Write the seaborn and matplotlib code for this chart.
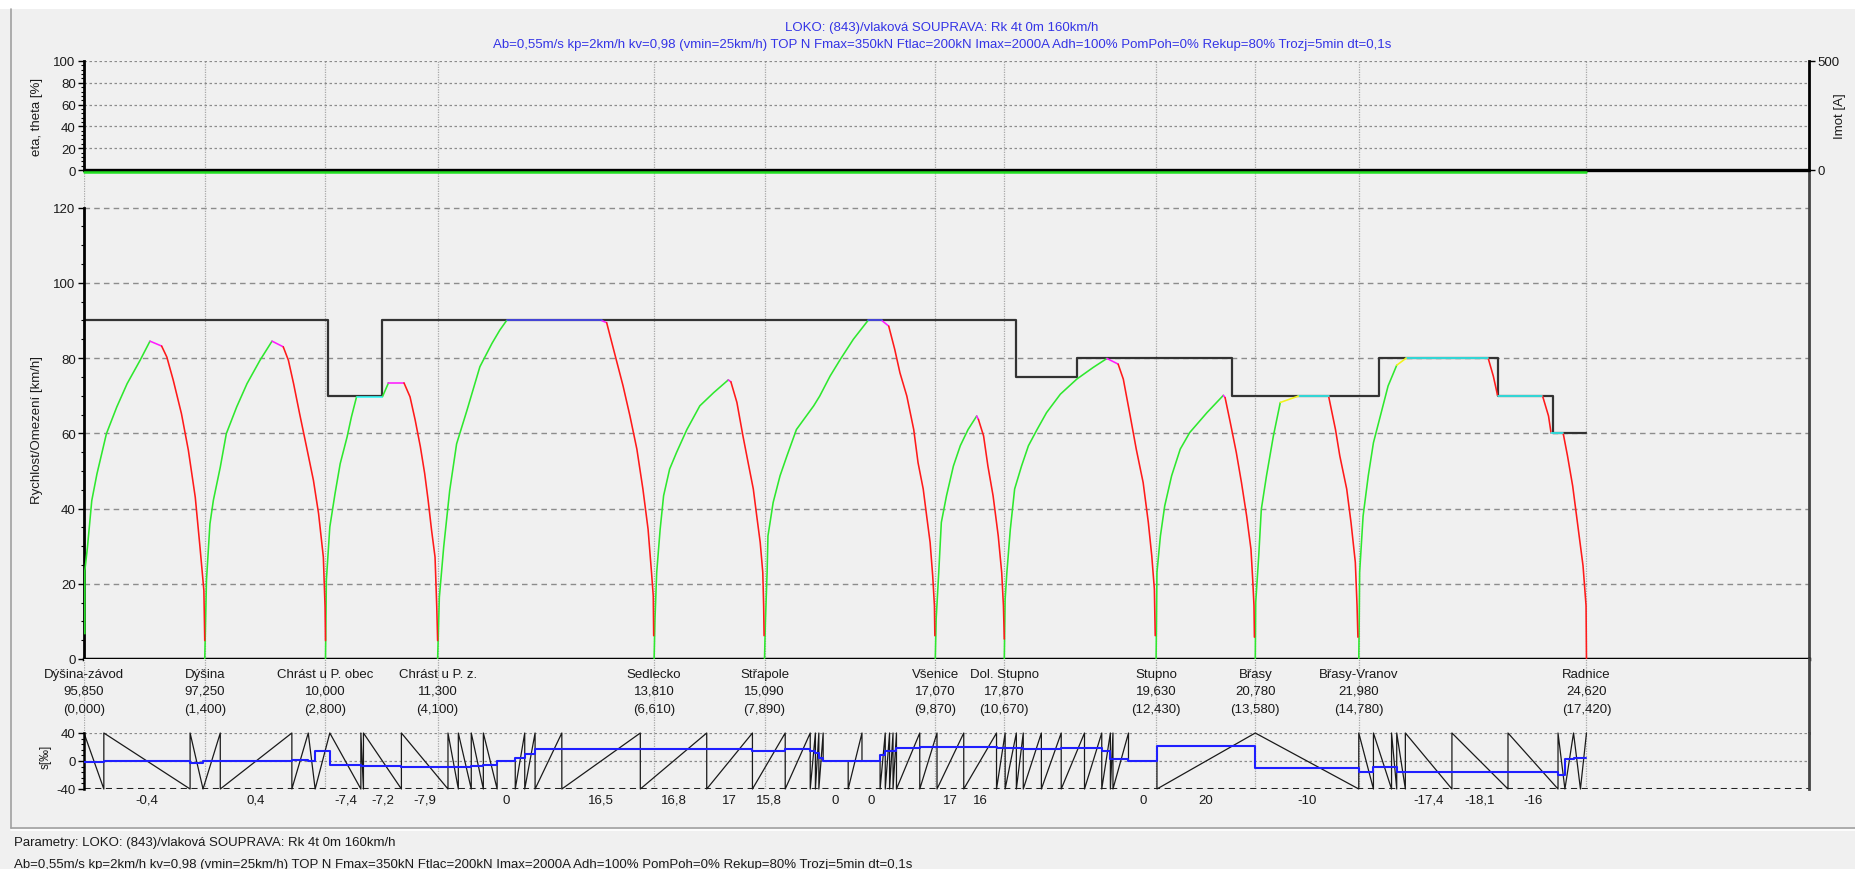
import numpy as np
import pandas as pd
import matplotlib
matplotlib.use("Agg")
import matplotlib.pyplot as plt
import matplotlib.transforms as mtransforms
from matplotlib.lines import Line2D
from matplotlib.patches import Rectangle
from matplotlib.ticker import MultipleLocator, FixedLocator
import seaborn as sns

# ---------------------------------------------------------------- texts
title_line1 = "LOKO: (843)/vlaková SOUPRAVA: Rk 4t 0m 160km/h"
title_line2 = ("Ab=0,55m/s kp=2km/h kv=0,98 (vmin=25km/h) TOP N Fmax=350kN Ftlac=200kN "
               "Imax=2000A Adh=100% PomPoh=0% Rekup=80% Trozj=5min dt=0,1s")
footer_line1 = "Parametry: LOKO: (843)/vlaková SOUPRAVA: Rk 4t 0m 160km/h"
footer_line2 = title_line2

# ---------------------------------------------------------------- stations
station_names = ["Dýšina-závod", "Dýšina", "Chrást u P. obec", "Chrást u P. z.", "Sedlecko",
                 "Střapole", "Všenice", "Dol. Stupno", "Stupno", "Břasy", "Břasy-Vranov", "Radnice"]
station_km = [0.0, 1.4, 2.8, 4.1, 6.61, 7.89, 9.87, 10.67, 12.43, 13.58, 14.78, 17.42]
station_chainage = [95.850, 97.250, 10.000, 11.300, 13.810, 15.090, 17.070, 17.870,
                    19.630, 20.780, 21.980, 24.620]

# ---------------------------------------------------------------- speed limit (step starts)
limit_km = [0.0, 2.83, 3.45, 10.80, 11.51, 13.31, 15.02, 16.40, 17.03, 17.42]
limit_kmh = [90, 70, 90, 75, 80, 70, 80, 70, 60]

# ---------------------------------------------------------------- speed runs
# mode letter per interval: A traction, C coasting, B braking, K hold at limit,
# U cruising, Y transition to hold
run01_km = [0.01, 0.01, 0.04, 0.09, 0.15, 0.26, 0.38, 0.50, 0.65, 0.765, 0.90, 0.96, 1.035, 1.13, 1.21, 1.29, 1.345, 1.39, 1.40]
run01_v = [6.7, 23.5, 29.7, 42.1, 49.2, 59.9, 67.0, 73.2, 79.4, 84.5, 83.2, 80.3, 74.1, 65.2, 55.5, 43.0, 29.7, 18.2, 4.9]
run01_mode = "AAAAAAAAACBBBBBBBB"

run02_km = [1.40, 1.42, 1.46, 1.50, 1.58, 1.65, 1.77, 1.89, 2.04, 2.18, 2.31, 2.37, 2.43, 2.50, 2.58, 2.66, 2.72, 2.775, 2.795, 2.80]
run02_v = [0.0, 20.9, 35.9, 42.2, 51.0, 59.9, 67.0, 73.2, 79.4, 84.5, 83.0, 79.4, 73.2, 65.2, 56.4, 47.5, 38.6, 27.1, 13.8, 4.9]
run02_mode = "AAAAAAAAACBBBBBBBBB"

run03_km = [2.80, 2.81, 2.85, 2.91, 2.97, 3.05, 3.10, 3.16, 3.46, 3.53, 3.71, 3.78, 3.84, 3.90, 3.95, 3.99, 4.03, 4.07, 4.09, 4.10]
run03_v = [0.0, 20.9, 35.1, 43.9, 51.9, 59.0, 64.3, 69.7, 69.7, 73.4, 73.4, 69.7, 63.5, 56.4, 49.3, 42.2, 34.2, 27.1, 13.8, 4.9]
run03_mode = "AAAAAAAKACBBBBBBBBB"

run04_km = [4.10, 4.12, 4.17, 4.24, 4.32, 4.44, 4.59, 4.73, 4.82, 4.90, 6.00, 6.06, 6.14, 6.25, 6.33, 6.41, 6.48, 6.54, 6.58, 6.60, 6.605]
run04_v = [0.0, 16.4, 29.7, 44.8, 57.2, 66.1, 77.7, 83.9, 87.4, 90.0, 90.0, 89.4, 82.3, 72.6, 64.6, 55.8, 45.2, 34.5, 23.0, 16.8, 6.2]
run04_mode = "AAAAAAAAAUCBBBBBBBBB"

run05_km = [6.61, 6.62, 6.64, 6.68, 6.72, 6.79, 6.87, 6.99, 7.14, 7.30, 7.47, 7.50, 7.57, 7.64, 7.70, 7.76, 7.80, 7.84, 7.87, 7.88, 7.885]
run05_v = [0.0, 10.6, 23.0, 34.5, 43.4, 50.5, 54.9, 61.0, 67.3, 70.8, 74.2, 73.7, 68.2, 59.3, 52.2, 45.2, 38.0, 31.0, 23.0, 14.2, 6.2]
run05_mode = "AAAAAAAAAACBBBBBBBBB"

run06_km = [7.89, 7.90, 7.92, 7.93, 7.99, 8.07, 8.15, 8.26, 8.46, 8.53, 8.65, 8.77, 8.92, 9.09, 9.25, 9.33,
            9.40, 9.46, 9.54, 9.62, 9.67, 9.73, 9.77, 9.81, 9.84, 9.86, 9.865]
run06_v = [0.0, 9.7, 23.0, 32.7, 41.6, 48.7, 54.0, 61.0, 67.3, 69.9, 75.2, 79.7, 85.0, 90.0, 90.0, 88.5,
           82.3, 76.1, 69.9, 61.0, 52.2, 45.2, 38.0, 31.0, 22.1, 14.2, 6.2]
run06_mode = "AAAAAAAAAAAAAUCBBBBBBBBBBB"

run07_km = [9.87, 9.88, 9.91, 9.94, 10.00, 10.08, 10.16, 10.25, 10.35, 10.37, 10.43, 10.48, 10.54, 10.60, 10.64, 10.66, 10.67]
run07_v = [0.0, 10.6, 23.0, 36.3, 43.4, 51.3, 56.7, 61.0, 64.6, 63.7, 59.3, 51.3, 43.4, 32.7, 23.0, 14.2, 5.3]
run07_mode = "AAAAAAAACBBBBBBB"

run08_km = [10.67, 10.68, 10.70, 10.74, 10.79, 10.87, 10.95, 11.05, 11.16, 11.32, 11.51, 11.70, 11.86,
            11.99, 12.05, 12.13, 12.20, 12.28, 12.34, 12.38, 12.41, 12.42]
run08_v = [0.0, 15.9, 23.0, 34.5, 45.2, 51.3, 56.7, 61.0, 65.5, 70.4, 74.4, 77.5, 79.9,
           78.4, 74.4, 64.6, 55.8, 46.9, 36.3, 27.4, 18.6, 6.2]
run08_mode = "AAAAAAAAAAAACBBBBBBBB"

run09_km = [12.43, 12.435, 12.44, 12.48, 12.53, 12.61, 12.71, 12.82, 13.02, 13.21, 13.23, 13.29, 13.36, 13.42, 13.48, 13.53, 13.55, 13.565, 13.57]
run09_v = [0.0, 10.6, 23.0, 32.7, 40.7, 48.7, 55.8, 60.2, 65.5, 70.1, 69.5, 62.9, 54.9, 46.9, 38.0, 29.2, 21.2, 14.2, 5.8]
run09_mode = "AAAAAAAAACBBBBBBBB"

run10_km = [13.58, 13.585, 13.62, 13.65, 13.71, 13.79, 13.87, 14.08, 14.43, 14.51, 14.56, 14.64, 14.69, 14.74, 14.76, 14.77]
run10_v = [0.0, 15.0, 27.4, 39.8, 48.7, 59.3, 68.2, 69.9, 69.9, 61.0, 54.0, 45.2, 36.3, 25.7, 14.2, 5.8]
run10_mode = "AAAAAAYKBBBBBBB"

run11_km = [14.78, 14.785, 14.79, 14.83, 14.89, 14.95, 15.03, 15.12, 15.22, 15.33, 16.28, 16.34, 16.39,
            16.91, 16.98, 17.01, 17.15, 17.20, 17.26, 17.32, 17.38, 17.415, 17.42]
run11_v = [0.0, 9.7, 23.0, 38.0, 48.7, 57.5, 64.6, 72.6, 78.1, 80.0, 80.0, 75.2, 70.0,
           70.0, 64.6, 60.0, 60.0, 54.0, 46.0, 35.4, 24.8, 14.2, 0.0]
run11_mode = "AAAAAAAAYKBBKBBKBBBBBB"

# ---------------------------------------------------------------- gradient profile
grad_start_km = [0.00, 0.23, 1.23, 1.38, 1.58, 2.41, 2.60, 2.68, 2.85, 3.21, 3.24, 3.68, 4.22, 4.34, 4.49, 4.63,
                 4.79, 5.00, 5.11, 5.23, 5.54, 6.45, 7.22, 7.75, 8.13, 8.42, 8.48, 8.52, 8.57, 8.86, 9.02,
                 9.23, 9.29, 9.34, 9.38, 9.42, 9.69, 9.89, 10.20, 10.58, 10.68, 10.81, 10.89, 11.10, 11.33,
                 11.60, 11.80, 11.90, 11.93, 12.11, 12.44, 13.58, 14.78, 14.95, 15.16, 15.22, 15.32, 15.86,
                 16.51, 17.09, 17.17, 17.27, 17.35]
grad_end_km = 17.42
grad_permille = [-1.4, -0.4, -2.8, 0.3, 0.4, 1.4, -0.3, 14.0, -7.4, -7.0, -7.2, -7.9, -6.5, -6.5, -6.0, -5.8,
                 0, 4.6, 10.6, 17.0, 16.5, 16.8, 17, 15.8, 17.0, 14.0, 11.0, 5.0, 0, 0.1, 0,
                 8.0, 13.9, 15.0, 17.0, 18.0, 19.0, 17, 16, 18.0, 18.0, 17.0, 17.0, 16.0, 17.0,
                 16.0, 12.0, 2.0, 2.0, 0, 20, -10, -15, -7.9, -7.9, -16, -17.4, -18.1,
                 -16, -20, 2.3, -0.5, 4.6]
grad_effective = [-1.4, -0.3, -2.8, 0.0, 0.2, 1.4, 0.5, 14.0, -6.0, -7.0, -6.5, -7.9, -7.9, -7.9, -7.0, -5.5,
                  0, 4.6, 10.6, 17.0, 17.0, 17.0, 17.0, 15.0, 17.0, 15.0, 11.5, 5.0, 0, 0, 0,
                  8.0, 13.9, 13.9, 15.0, 18.5, 20.0, 20.0, 20.0, 18.5, 18.5, 18.5, 17.5, 17.0, 18.0,
                  18.0, 14.0, 2.3, 2.3, 0, 21.8, -9.3, -15.0, -7.9, -7.9, -16.0, -16.0, -16.0,
                  -16.0, -20.0, 2.3, 4.6, 4.6]
grad_labelled = [1, 4, 8, 10, 11, 16, 20, 21, 22, 23, 28, 30, 37, 38, 49, 50, 51, 56, 57, 58]

# ---------------------------------------------------------------- style
BG = "#F0F0F0"
sns.set_theme(style="white")
plt.rcParams["font.family"] = ["Liberation Sans", "DejaVu Sans"]
plt.rcParams["axes.unicode_minus"] = False
FS = 9.5
TXT = "#1a1a1a"
GRID = "#8c8c8c"
STATION_LINE = "#a8a8a8"

phase_colors = {"A": "#2ee82e", "C": "#ff1cff", "B": "#ff1a1a",
                "K": "#33ffff", "U": "#4a4aff", "Y": "#f2f21a"}

W_PX, H_PX = 1856, 870
fig = plt.figure(figsize=(W_PX / 100, H_PX / 100), dpi=100, facecolor=BG)


def frac_y(px):
    return 1 - px / H_PX


LEFT = 84 / W_PX
WIDTH = (1809 - 84) / W_PX
ax_top = fig.add_axes([LEFT, frac_y(171), WIDTH, (171 - 62) / H_PX])
ax_spd = fig.add_axes([LEFT, frac_y(660), WIDTH, (660 - 171) / H_PX])
ax_band = fig.add_axes([LEFT, frac_y(734), WIDTH, (734 - 660) / H_PX])
ax_grd = fig.add_axes([LEFT, frac_y(790), WIDTH, (790 - 734) / H_PX])
# the top panel is painted last so its zero line may overhang the speed panel
ax_top.set_zorder(3)

for ax in (ax_top, ax_spd, ax_band, ax_grd):
    ax.set_facecolor(BG)
    ax.set_xlim(0, 20)
    ax.tick_params(axis="x", bottom=False, labelbottom=False, top=False)
    ax.set_axisbelow(True)
    for x in station_km:
        ax.axvline(x, color=STATION_LINE, lw=0.9, ls=(0, (1, 1)), zorder=0.5)
    for s in ax.spines.values():
        s.set_visible(False)


def style_y(ax, major, minor):
    ax.yaxis.set_major_locator(MultipleLocator(major))
    ax.yaxis.set_minor_locator(MultipleLocator(minor))
    ax.tick_params(axis="y", which="major", left=True, length=4, width=1, color="black",
                   labelsize=FS, labelcolor=TXT, pad=2)
    ax.tick_params(axis="y", which="minor", left=True, length=2, width=0.8, color="black")


# ---------------------------------------------------------------- top panel: eta/theta and Imot
ax_top.set_ylim(0, 100)
style_y(ax_top, 20, 4)
ax_top.yaxis.grid(True, which="major", color=GRID, ls=(0, (2, 2)), lw=0.9)
ax_top.spines["left"].set_visible(True)
ax_top.spines["left"].set_linewidth(2)
ax_top.spines["left"].set_color("black")
sns.lineplot(x=[0.0, 20.0], y=[0.0, 0.0], color="black", lw=2.4, ax=ax_top,
             estimator=None, sort=False, clip_on=False, zorder=3)
green_shift = mtransforms.offset_copy(ax_top.transData, fig=fig, x=0, y=-1.6, units="dots")
sns.lineplot(x=[0.0, station_km[-1]], y=[0.0, 0.0], color="#22e022", lw=1.8, ax=ax_top,
             estimator=None, sort=False, clip_on=False, zorder=4, transform=green_shift)
ax_top.set_xlim(0, 20)
ax_top.set_ylim(0, 100)
ax_top.set_xlabel("")
ax_top.set_ylabel("eta, theta [%]", fontsize=FS, color=TXT)
ax_top.yaxis.set_label_coords(-0.0235, 0.5)

ax_cur = ax_top.twinx()
ax_cur.set_zorder(4)
ax_cur.set_ylim(0, 500)
ax_cur.set_yticks([0, 500])
for s in ax_cur.spines.values():
    s.set_visible(False)
ax_cur.spines["right"].set_visible(True)
ax_cur.spines["right"].set_linewidth(2)
ax_cur.spines["right"].set_color("black")
ax_cur.tick_params(axis="y", right=True, length=4, width=1, color="black",
                   labelsize=FS, labelcolor=TXT, pad=2)
ax_cur.set_ylabel("Imot [A]", fontsize=FS, color=TXT)
ax_cur.yaxis.set_label_coords(1.0145, 0.5)

# ---------------------------------------------------------------- speed panel
ax_spd.set_ylim(0, 130)
style_y(ax_spd, 20, 5)
ax_spd.set_yticks(np.arange(0, 121, 20))
ax_spd.yaxis.set_minor_locator(FixedLocator(np.arange(0, 121, 5)))
ax_spd.yaxis.grid(True, which="major", color=GRID, ls=(0, (4, 3)), lw=1.0)
ax_spd.spines["left"].set_visible(True)
ax_spd.spines["left"].set_bounds(0, 120)
ax_spd.spines["left"].set_linewidth(2)
ax_spd.spines["left"].set_color("black")
ax_spd.spines["bottom"].set_visible(True)
ax_spd.spines["bottom"].set_linewidth(2.5)
ax_spd.spines["bottom"].set_color("black")
ax_spd.spines["right"].set_visible(True)
ax_spd.spines["right"].set_linewidth(2)
ax_spd.spines["right"].set_color("#444444")

lim_x = limit_km
lim_y = limit_kmh + [limit_kmh[-1]]
sns.lineplot(x=lim_x, y=lim_y, color="#333333", lw=1.6, drawstyle="steps-post",
             estimator=None, sort=False, ax=ax_spd, zorder=2)

runs = [
    (run01_km, run01_v, run01_mode), (run02_km, run02_v, run02_mode),
    (run03_km, run03_v, run03_mode), (run04_km, run04_v, run04_mode),
    (run05_km, run05_v, run05_mode), (run06_km, run06_v, run06_mode),
    (run07_km, run07_v, run07_mode), (run08_km, run08_v, run08_mode),
    (run09_km, run09_v, run09_mode), (run10_km, run10_v, run10_mode),
    (run11_km, run11_v, run11_mode),
]
rows = []
seg = 0
for kms, vs, modes in runs:
    start = 0
    for i in range(1, len(modes) + 1):
        if i == len(modes) or modes[i] != modes[start]:
            for j in range(start, i + 1):
                rows.append((seg, modes[start], kms[j], vs[j]))
            seg += 1
            start = i
speed_df = pd.DataFrame(rows, columns=["seg", "phase", "km", "v"])
sns.lineplot(data=speed_df, x="km", y="v", hue="phase", palette=phase_colors, units="seg",
             estimator=None, sort=False, legend=False, lw=1.15, ax=ax_spd, zorder=3)
ax_spd.set_xlim(0, 20)
ax_spd.set_ylim(0, 130)
ax_spd.set_xlabel("")
ax_spd.set_ylabel("Rychlost/Omezení [km/h]", fontsize=FS, color=TXT)
ax_spd.yaxis.set_label_coords(-0.0235, 0.47)

# ---------------------------------------------------------------- station band
ax_band.set_ylim(0, 1)
ax_band.set_yticks([])
ax_band.spines["right"].set_visible(True)
ax_band.spines["right"].set_linewidth(2)
ax_band.spines["right"].set_color("#444444")
band_tr = mtransforms.blended_transform_factory(ax_band.transData, ax_band.transAxes)
for km, name, ch in zip(station_km, station_names, station_chainage):
    ax_band.text(km, 1 - 15 / 74, name, transform=band_tr, ha="center", va="center",
                 fontsize=FS, color=TXT)
    ax_band.text(km, 1 - 32 / 74, f"{ch:.3f}".replace(".", ","), transform=band_tr,
                 ha="center", va="center", fontsize=FS, color=TXT)
    ax_band.text(km, 1 - 50 / 74, "(" + f"{km:.3f}".replace(".", ",") + ")", transform=band_tr,
                 ha="center", va="center", fontsize=FS, color=TXT)

# ---------------------------------------------------------------- gradient panel
ax_grd.set_ylim(-40, 40)
ax_grd.set_yticks([-40, 0, 40])
ax_grd.yaxis.set_minor_locator(MultipleLocator(8))
ax_grd.tick_params(axis="y", which="major", left=True, length=4, width=1, color="black",
                   labelsize=FS, labelcolor=TXT, pad=2)
ax_grd.tick_params(axis="y", which="minor", left=True, length=2, width=0.8, color="black")
ax_grd.yaxis.grid(True, which="major", color=GRID, ls=(0, (2, 2)), lw=0.9)
ax_grd.spines["left"].set_visible(True)
ax_grd.spines["left"].set_linewidth(1.8)
ax_grd.spines["left"].set_color("black")
ax_grd.spines["right"].set_visible(True)
ax_grd.spines["right"].set_linewidth(2)
ax_grd.spines["right"].set_color("#444444")
ax_grd.axhline(-40, color="#222222", lw=2.2, ls=(0, (2, 1.5)), zorder=1)

grad_end = grad_start_km[1:] + [grad_end_km]
zig_x, zig_y = [], []
for a, b, g in zip(grad_start_km, grad_end, grad_permille):
    zig_x += [a, b]
    if g > 0:
        zig_y += [-40, 40]
    elif g < 0:
        zig_y += [40, -40]
    else:
        zig_y += [0, 0]
sns.lineplot(x=zig_x, y=zig_y, color="#1a1a1a", lw=0.9, estimator=None, sort=False,
             ax=ax_grd, clip_on=False, zorder=2)
eff_x = grad_start_km + [grad_end_km]
eff_y = grad_effective + [grad_effective[-1]]
sns.lineplot(x=eff_x, y=eff_y, color="#1f1fff", lw=1.5, drawstyle="steps-post",
             estimator=None, sort=False, ax=ax_grd, zorder=3)
ax_grd.set_xlim(0, 20)
ax_grd.set_ylim(-40, 40)
ax_grd.set_xlabel("")
ax_grd.set_ylabel("s[‰]", fontsize=8.5, color=TXT)
ax_grd.yaxis.set_label_coords(-0.019, 0.6)

grd_tr = mtransforms.blended_transform_factory(ax_grd.transData, ax_grd.transAxes)
for i in grad_labelled:
    mid = 0.5 * (grad_start_km[i] + grad_end[i])
    label = f"{grad_permille[i]:g}".replace(".", ",")
    ax_grd.text(mid, -11 / 56, label, transform=grd_tr, ha="center", va="center",
                fontsize=FS, color=TXT)

# ---------------------------------------------------------------- titles, footer, window frame
fig.text(942 / W_PX, frac_y(28), title_line1, ha="center", va="center", fontsize=FS, color="#3434e6")
fig.text(942 / W_PX, frac_y(45), title_line2, ha="center", va="center", fontsize=FS, color="#3434e6")
fig.text(14 / W_PX, frac_y(843), footer_line1, ha="left", va="center", fontsize=FS, color=TXT)
fig.text(14 / W_PX, frac_y(865), footer_line2, ha="left", va="center", fontsize=FS, color=TXT)

fig.patches.append(Rectangle((0, frac_y(10)), 1, 10 / H_PX, transform=fig.transFigure,
                             facecolor="white", edgecolor="none", zorder=0))
fig.lines.append(Line2D([11 / W_PX, 11 / W_PX], [frac_y(10), frac_y(829)], transform=fig.transFigure,
                        color="#a0a0a0", lw=1.2))
fig.lines.append(Line2D([11 / W_PX, 1], [frac_y(829), frac_y(829)], transform=fig.transFigure,
                        color="#a0a0a0", lw=1.2))
fig.lines.append(Line2D([11 / W_PX, 1], [frac_y(831), frac_y(831)], transform=fig.transFigure,
                        color="white", lw=1.2))

fig.savefig("out.png", dpi=100, facecolor=BG)
